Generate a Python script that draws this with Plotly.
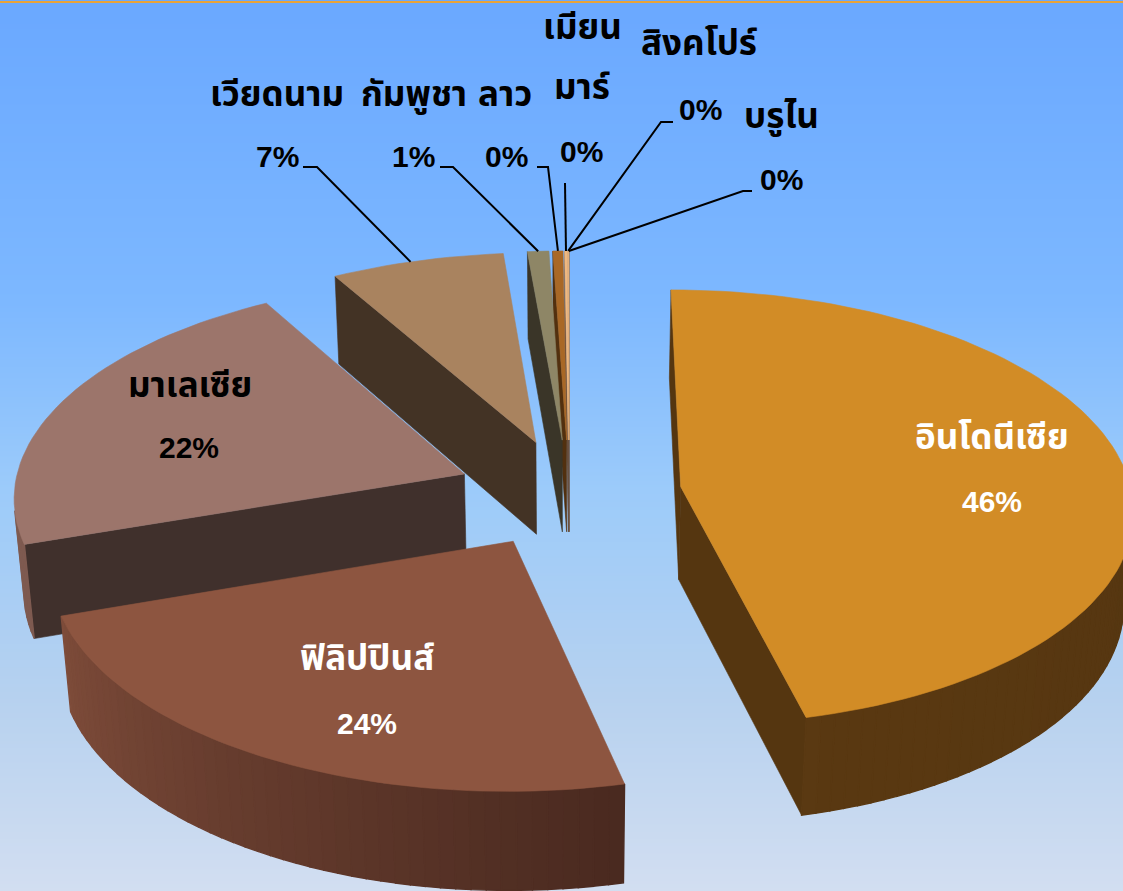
import numpy as np
import plotly.graph_objects as go

# ---- data ----
categories = ["อินโดนีเซีย", "ฟิลิปปินส์", "มาเลเซีย", "เวียดนาม", "กัมพูชา", "ลาว", "เมียนมาร์", "สิงคโปร์", "บรูไน"]
values = [46.3, 23.5, 21.9, 6.9, 0.85, 0.40, 0.11, 0.03, 0.01]

# ---- style ----
top_colors = ["#D28C26", "#8D5540", "#9C756B", "#A9835F", "#8E8666", "#A96826", "#F0B880", "#F0B880", "#F0B880"]
side_colors = ["#553610", "#40302C", "#40302C", "#433325", "#3A3528", "#52300F", "#6A5040", "#6A5040", "#6A5040"]
rim_start = ["#513410", "#4A2A20", "#7E5A50", "#6A5038", "#555038", "#5A3510", "#806040", "#806040", "#806040"]
rim_end = ["#5A3912", "#7E4C3A", "#8A6A60", "#6A5038", "#555038", "#5A3510", "#806040", "#806040", "#806040"]

bg_stops = [(0, "#6AA8FF"), (0.34, "#7DB8FF"), (0.55, "#9CCBFA"), (0.78, "#B6D1EF"), (1, "#D2DEF1")]

# ---- projection model ----
CX, CY = 569, 492
S0, K, Q, V0 = 451.0, 0.095, 0.48, 0.002
THICK, M = 0.21, 0.018
EXPLODE = 0.25


def project(x, y, z=0.0):
    w = 1 - K * y + M * z
    return CX + S0 * x / w, CY + S0 * (Q * y + V0 + THICK * z) / w


def hex2rgb(h):
    return np.array([int(h[i:i + 2], 16) for i in (1, 3, 5)], float)


def mix(a, b, t):
    c = hex2rgb(a) * (1 - t) + hex2rgb(b) * t
    return "rgb(%d,%d,%d)" % tuple(c)


def area(pts):
    return sum(pts[i][0] * pts[(i + 1) % 4][1] - pts[(i + 1) % 4][0] * pts[i][1] for i in range(4))


fig = go.Figure()
fig.add_trace(go.Heatmap(x=[0, 1123], y=np.linspace(0, 891, 60),
                         z=[[v, v] for v in np.linspace(0, 1, 60)],
                         colorscale=[[a, b] for a, b in bg_stops],
                         showscale=False, hoverinfo="skip", zsmooth="best"))


def poly(pts, color, lw=0.6):
    xs, ys = zip(*pts)
    fig.add_trace(go.Scatter(x=list(xs) + [xs[0]], y=list(ys) + [ys[0]], mode="lines",
                             fill="toself", fillcolor=color,
                             line=dict(color=color, width=lw),
                             hoverinfo="skip", showlegend=False))


total = sum(values)
fr = np.cumsum([0] + values) / total * 2 * np.pi
slices = []
for i in range(len(values)):
    a0, a1 = fr[i], fr[i + 1]
    m = (a0 + a1) / 2
    ax, ay = EXPLODE * np.sin(m), -EXPLODE * np.cos(m)
    th = np.linspace(a0, a1, max(3, int((a1 - a0) / 0.03)))
    rx, ry = ax + np.sin(th), ay - np.cos(th)
    slices.append(dict(i=i, ax=ax, ay=ay, th=th, rx=rx, ry=ry))

# paint order: far slices first
draw_order = [0, 8, 7, 6, 5, 4, 3, 2, 1]
for i in draw_order:
    s = slices[i]
    ax, ay, rx, ry = s["ax"], s["ay"], s["rx"], s["ry"]
    faces = []
    for sign, k in ((-1, 0), (1, -1)):
        pts = [project(ax, ay), project(rx[k], ry[k]), project(rx[k], ry[k], 1), project(ax, ay, 1)]
        if area(pts) * sign > 0:
            faces.append(((ay + ry[k]) / 2, pts, side_colors[i], 0.6))
    n = len(rx)
    for k in range(n - 1):
        t = k / max(1, n - 2)
        pts = [project(rx[k], ry[k]), project(rx[k + 1], ry[k + 1]),
               project(rx[k + 1], ry[k + 1], 1), project(rx[k], ry[k], 1)]
        if area(pts) < 0:
            faces.append(((ry[k] + ry[k + 1]) / 2, pts, mix(rim_start[i], rim_end[i], t), 1.4))
    for _, pts, col, lw in sorted(faces, key=lambda f: f[0]):
        poly(pts, col, lw)
    poly([project(ax, ay)] + [project(x, y) for x, y in zip(rx, ry)], top_colors[i])

# ---- leader lines (start on the rim of each small slice) ----
leaders = {3: [(317, 167), (303, 167)], 4: [(453, 167), (440, 167)], 5: [(548, 167), (537, 167)],
           6: [(565, 183)], 7: [(661, 122), (673, 122)], 8: [(743, 191), (752, 191)]}
for i, tail in leaders.items():
    s = slices[i]
    j = int(len(s["rx"]) * 0.45)
    start = project(s["rx"][j], s["ry"][j])
    xs = [start[0]] + [p[0] for p in tail]
    ys = [start[1]] + [p[1] for p in tail]
    fig.add_trace(go.Scatter(x=xs, y=ys, mode="lines", line=dict(color="black", width=2),
                             hoverinfo="skip", showlegend=False))

# top orange rule
fig.add_shape(type="line", x0=0, x1=1123, y0=2, y1=2, line=dict(color="#E8A33A", width=2))

# ---- labels ----
THAI = "Noto Sans Thai, Noto Sans, Noto Sans CJK SC, DejaVu Sans, sans-serif"
PCT = "Liberation Sans, Arial, sans-serif"
pct = [f"{round(v)}%" for v in values]
label_lines = [["อินโดนีเซีย"], ["ฟิลิปปินส์"], ["มาเลเซีย"], ["เวียดนาม"], ["กัมพูชา"], ["ลาว"],
               ["เมียน", "มาร์"], ["สิงคโปร์"], ["บรูไน"]]
label_pos = [[(992, 438)], [(367, 659)], [(190, 386)], [(277, 95)], [(414, 95)], [(505, 95)],
             [(582, 28), (582, 88)], [(699, 44)], [(781, 117)]]
pct_pos = [(992, 501), (367, 723), (189, 447), (277, 156), (413, 156), (506, 156),
           (581, 151), (700, 109), (781, 179)]
white = {0, 1}
for i in range(len(values)):
    col = "white" if i in white else "black"
    for text, (x, y) in zip(label_lines[i], label_pos[i]):
        fig.add_annotation(x=x, y=y, text=f"<b>{text}</b>", showarrow=False,
                           font=dict(family=THAI, size=35, color=col), xanchor="center", yanchor="middle")
    x, y = pct_pos[i]
    fig.add_annotation(x=x, y=y, text=f"<b>{pct[i]}</b>", showarrow=False,
                       font=dict(family=PCT, size=30, color=col), xanchor="center", yanchor="middle")

fig.update_layout(width=1123, height=891, margin=dict(l=0, r=0, t=0, b=0),
                  paper_bgcolor="#6AA8FF", plot_bgcolor="rgba(0,0,0,0)", showlegend=False,
                  xaxis=dict(range=[0, 1123], visible=False, fixedrange=True),
                  yaxis=dict(range=[891, 0], visible=False, fixedrange=True))
fig.write_html("out.html", config={"displayModeBar": False},
               post_script="document.body.style.margin='0';document.body.style.overflow='hidden';")
